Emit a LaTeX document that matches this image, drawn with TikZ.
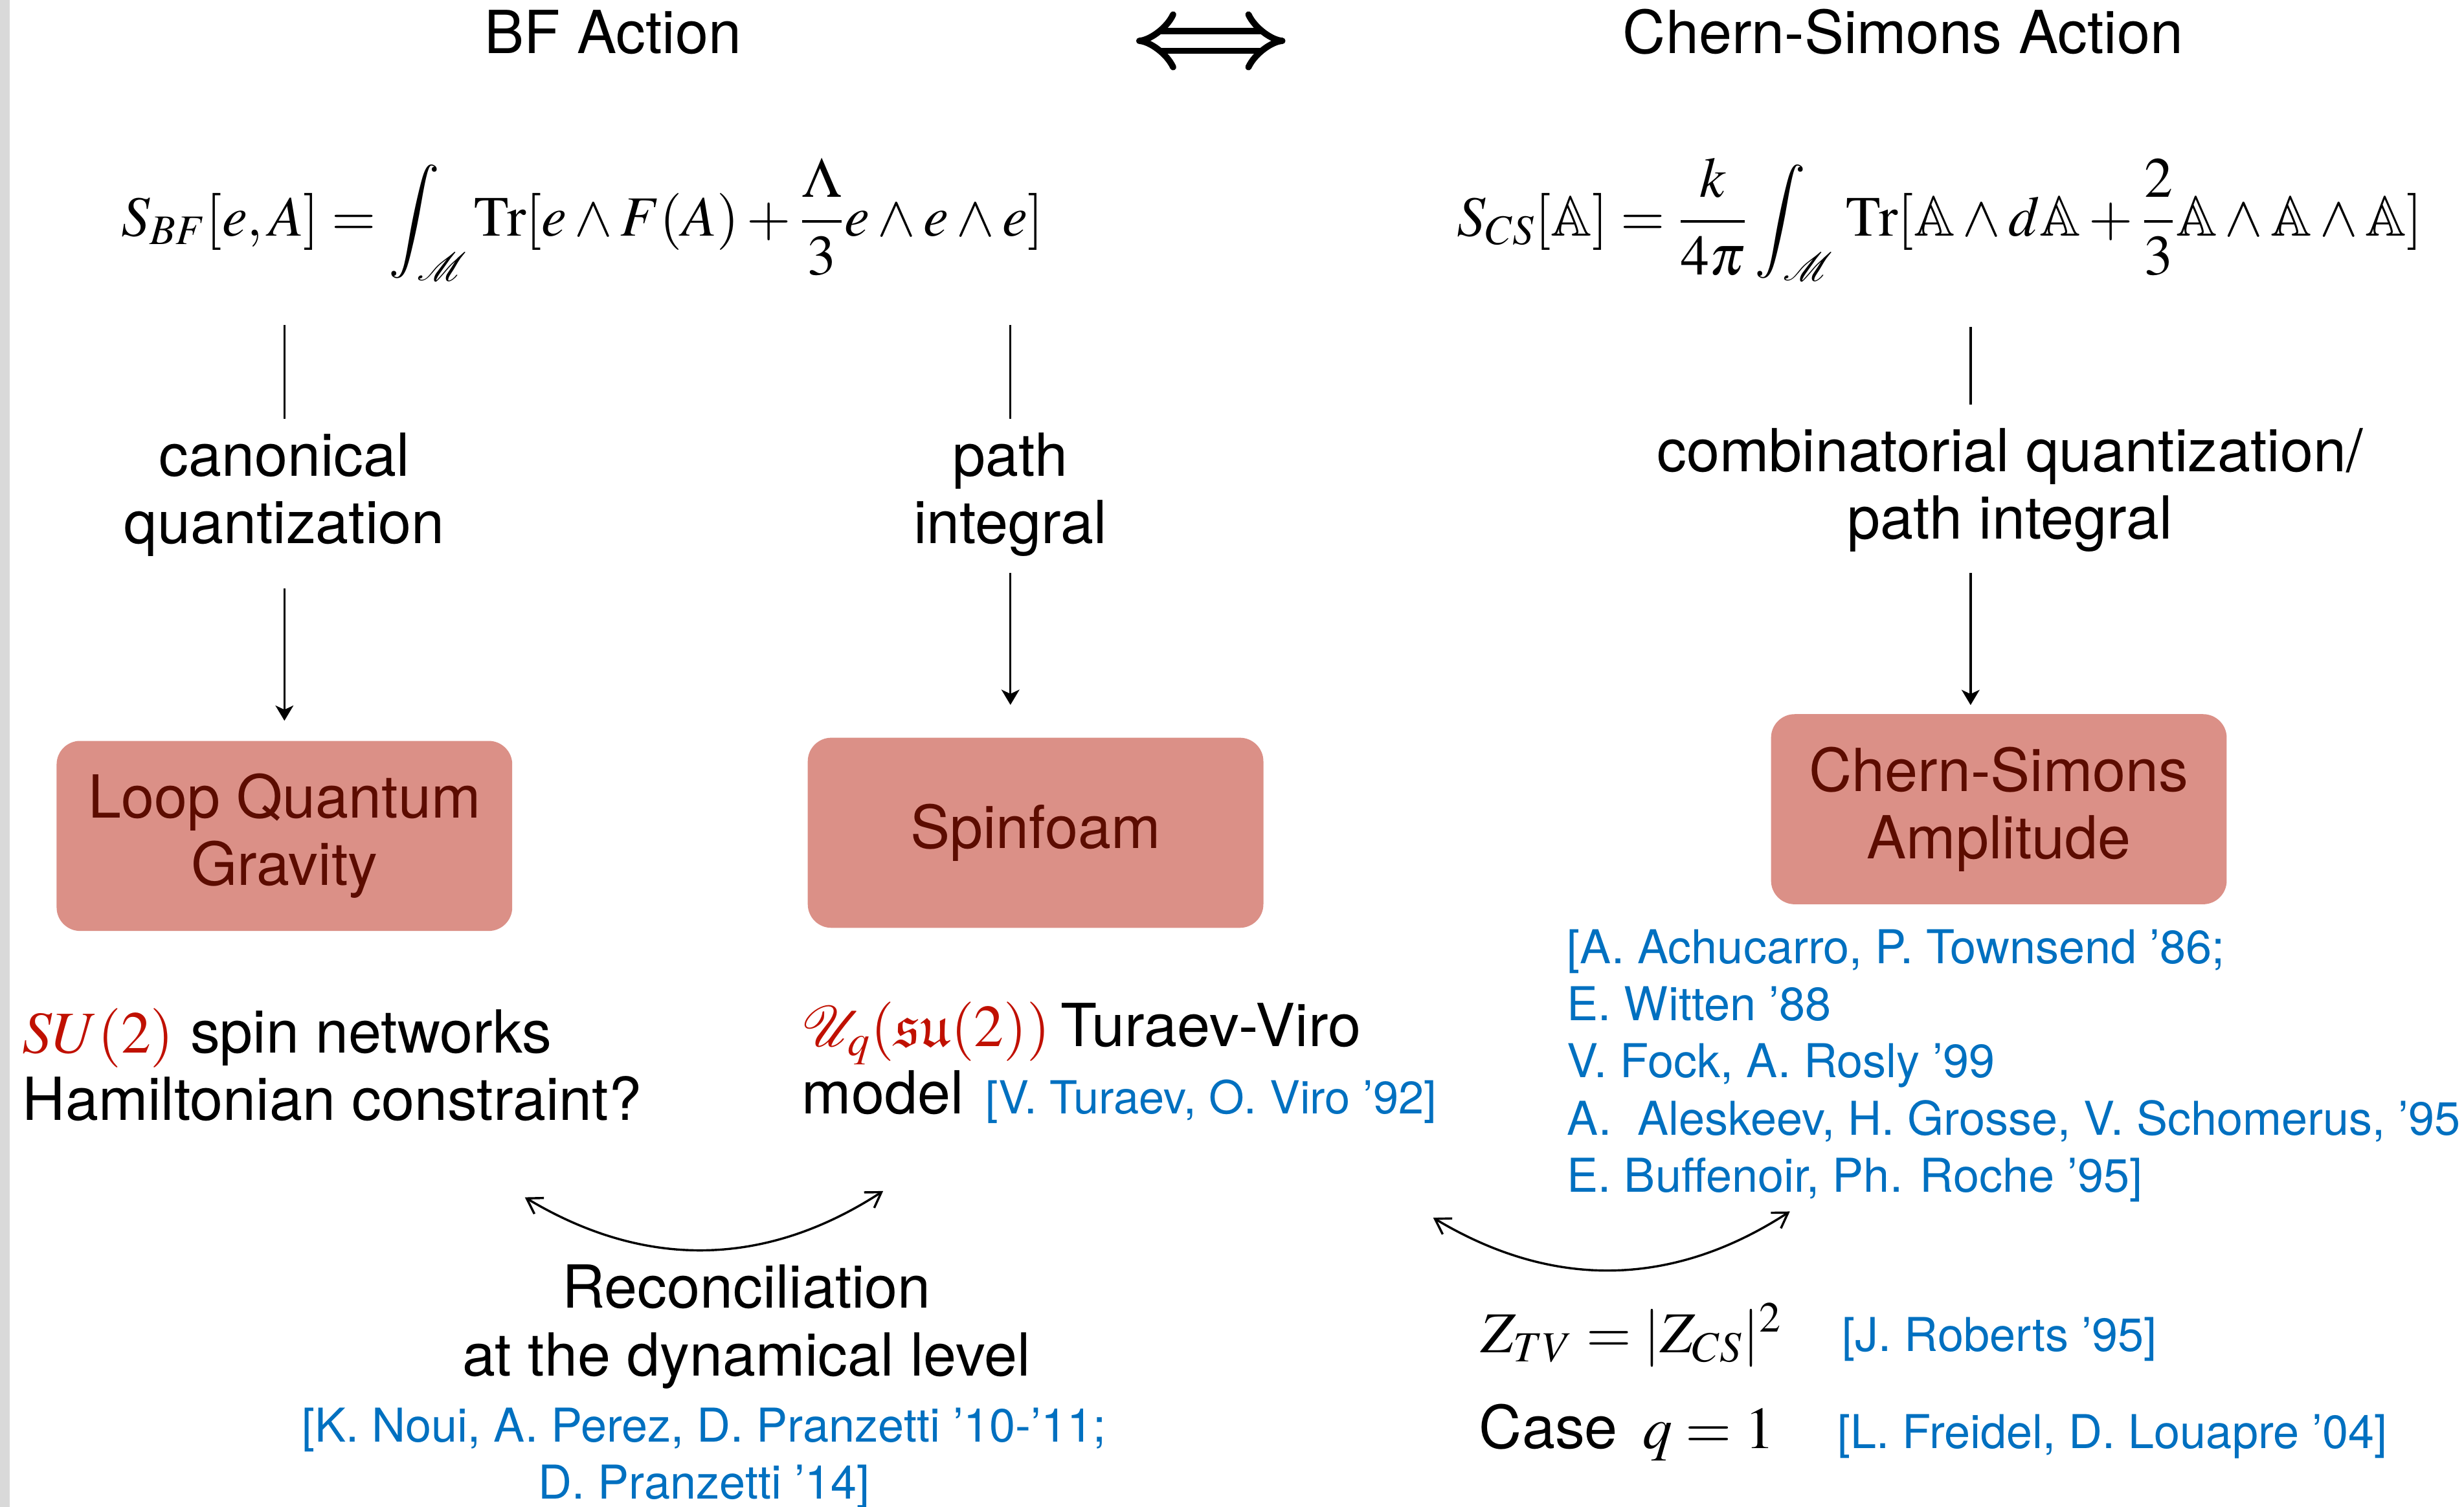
\documentclass[tikz,border=0pt]{standalone}
\usepackage{amsmath,amssymb}
\usepackage{mathptmx}
\usepackage{mathrsfs}
\usepackage[no-math]{fontspec}
\setsansfont{TeX Gyre Heros}
\usepackage{graphicx}
\usetikzlibrary{arrows.meta, positioning, calc}

\definecolor{boxfill}{RGB}{219,144,135}
\definecolor{boxtext}{RGB}{92,12,0}
\definecolor{refblue}{RGB}{0,112,192}
\definecolor{hlred}{RGB}{192,16,0}
\definecolor{sidebar}{RGB}{217,217,217}

\newcommand{\txtfont}{\sffamily\fontsize{21.5}{24.5}\selectfont}
\newcommand{\citefont}{\sffamily\fontsize{16.9}{20.66}\selectfont}
\newcommand{\eqnfont}{\fontsize{20.6}{24}\selectfont}

\begin{document}
\begin{tikzpicture}[x=0.02cm, y=0.02cm,
    txt/.style={font=\txtfont, align=center, inner sep=0pt},
    ref/.style={font=\citefont, text=refblue, inner sep=0pt},
    eqn/.style={font=\eqnfont, inner sep=0pt},
    theory/.style={rectangle, rounded corners=0.3cm, fill=boxfill, text=boxtext,
        font=\txtfont, align=center, minimum width=5.8cm, minimum height=2.42cm},
    rule/.style={line width=0.8pt},
    arrow/.style={line width=0.8pt, -{Stealth[length=5.5pt, width=6.5pt, inset=1.5pt]}},
    twoway/.style={line width=0.8pt,
        {Straight Barb[length=5.3pt, width=6.7pt]}-{Straight Barb[length=5.3pt, width=6.7pt]}},
    equiv/.style={line width=2.3pt, double distance=4.9pt,
        {Implies[length=10pt, width=17pt]}-{Implies[length=10pt, width=17pt]}}
]
\useasboundingbox (0,0) rectangle (1568,-959);
\fill[sidebar] (0,0) rectangle (6,-959);

% headings
\node[txt, anchor=base] (bfTitle) at (390,-34) {BF Action};
\node[txt, anchor=base] (csTitle) at (1211,-34) {Chern-Simons Action};
\coordinate (eqL) at (723,-26);
\coordinate (eqR) at (818,-26);
\draw[equiv] (eqL) -- (eqR);

% the two actions
\node[eqn, anchor=base west] (bfAct) at (77,-150)
  {$\displaystyle S_{BF}[e,A] = \int_{\mathscr{M}} \mathrm{Tr}[e\wedge F(A) + \frac{\Lambda}{3}e\wedge e\wedge e]$};
\node[eqn, anchor=base west] (csAct) at (927,-150)
  {$\displaystyle S_{CS}[\mathbb{A}] = \frac{k}{4\pi}\int_{\mathscr{M}}\, \mathrm{Tr}[\mathbb{A}\wedge d\mathbb{A} + \frac{2}{3}\mathbb{A}\wedge\mathbb{A}\wedge\mathbb{A}]$};
\coordinate (bfFoot) at (181,-207);
\coordinate (sfFoot) at (643,-207);
\coordinate (csFoot) at (1254,-208);

% quantization routes (base = last line)
\node[txt, anchor=base] (canon) at (181,-346) {canonical\\quantization};
\node[txt, anchor=base] (pathInt) at (643,-346) {path\\integral};
\node[txt, anchor=base] (combi) at (1279,-343) {combinatorial quantization/\\path integral};

\node[theory] (lqg) at (181,-532) {Loop Quantum\\Gravity};
\node[theory] (spinfoam) at (659,-530) {Spinfoam};
\node[theory] (csAmp) at (1272,-515) {Chern-Simons\\Amplitude};

\draw[rule, shorten >=4.8pt] (bfFoot) -- (bfFoot |- canon.north);
\draw[arrow, shorten <=11.4pt, shorten >=7.1pt] (bfFoot |- canon.south) -- (bfFoot |- lqg.north);
\draw[rule, shorten >=4.8pt] (sfFoot) -- (sfFoot |- pathInt.north);
\draw[arrow, shorten <=5.7pt, shorten >=11.7pt] (sfFoot |- pathInt.south) -- (sfFoot |- spinfoam.north);
\draw[rule, shorten >=8.3pt] (csFoot) -- (csFoot |- combi.north);
\draw[arrow, shorten <=7.4pt, shorten >=3.1pt] (csFoot |- combi.south) -- (csFoot |- csAmp.north);

% what each side gives
\node[txt, align=left, anchor=base west] (lqgNote) at (14,-713)
  {\textcolor{hlred}{$SU(2)$} spin networks\\Hamiltonian constraint?};
\node[txt, align=left, anchor=base west] (tvNote) at (510,-709)
  {\textcolor{hlred}{$\mathscr{U}_q(\mathfrak{su}(2))$}\hspace{-2pt} Turaev-Viro\\model\hspace{8pt}{\sffamily\fontsize{16.5}{20}\selectfont\color{refblue}[V. Turaev, O. Viro '92]}};
\node[ref, align=left, anchor=base west] (csRefs) at (997,-758.5)
  {[A. Achucarro, P. Townsend '86;\\E. Witten '88\\V. Fock, A. Rosly '99\\A.~\ Aleskeev, H. Grosse, V. Schomerus, '95\\E. Buffenoir, Ph. Roche '95]};

% links between the quantizations
\node[txt, anchor=base] (recon) at (475,-875.5) {Reconciliation\\at the dynamical level};
\node[ref, align=center, anchor=base] (reconRefs) at (448,-954)
  {[K. Noui, A. Perez, D. Pranzetti '10-'11;\\D. Pranzetti '14]};
\node[eqn, font=\fontsize{21}{25}\selectfont, anchor=base west] (tvcs) at (942,-861) {$Z_{TV} = |Z_{CS}|^2$};
\node[ref, anchor=base west] (robertsRef) at (1172,-860) {[J. Roberts '95]};
\node[txt, anchor=base west] (caseq) at (941,-922) {Case\hspace{9pt}$q = 1$};
\node[ref, anchor=base west] (freidelRef) at (1169,-922) {[L. Freidel, D. Louapre '04]};

\coordinate (reconL) at (334,-762);
\coordinate (reconR) at (562,-758);
\draw[twoway] (reconL) to[bend right=32] (reconR);
\coordinate (ampL) at (912,-775);
\coordinate (ampR) at (1139,-771);
\draw[twoway] (ampL) to[bend right=32] (ampR);
\end{tikzpicture}
\end{document}
